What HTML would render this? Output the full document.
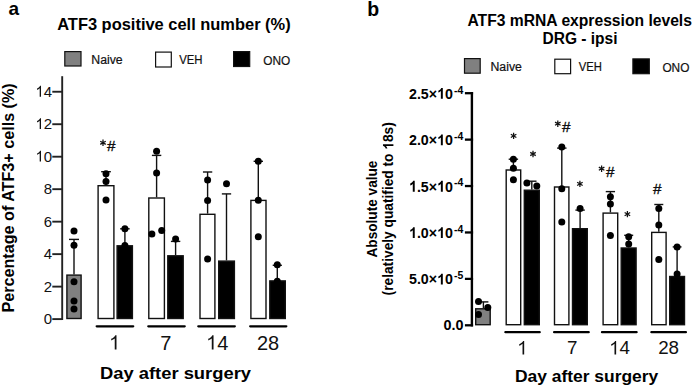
<!DOCTYPE html>
<html><head><meta charset="utf-8"><style>
html,body{margin:0;padding:0;background:#fff;width:698px;height:386px;overflow:hidden}
svg{display:block}
text{font-family:"Liberation Sans", sans-serif}
</style></head><body>
<svg width="698" height="386" viewBox="0 0 698 386">
<rect width="698" height="386" fill="#fff"/>
<text x="8.60" y="15.40" font-size="19" font-weight="bold" text-anchor="start" fill="#000" >a</text>
<text x="57.20" y="29.70" font-size="16.4" font-weight="bold" text-anchor="start" fill="#000" textLength="233.50" lengthAdjust="spacingAndGlyphs" >ATF3 positive cell number (%)</text>
<rect x="64.80" y="51.60" width="16.20" height="14.40" fill="#808080" stroke="#111" stroke-width="1.2"/>
<text x="91.30" y="64.10" font-size="12" font-weight="normal" text-anchor="start" fill="#111" textLength="31.40" lengthAdjust="spacingAndGlyphs" stroke="#111" stroke-width="0.2">Naive</text>
<rect x="155.60" y="52.10" width="15.70" height="14.90" fill="#fff" stroke="#111" stroke-width="1.2"/>
<text x="179.20" y="64.10" font-size="12" font-weight="normal" text-anchor="start" fill="#111" textLength="23.40" lengthAdjust="spacingAndGlyphs" stroke="#111" stroke-width="0.2">VEH</text>
<rect x="233.60" y="51.60" width="16.10" height="14.90" fill="#000" stroke="#111" stroke-width="1.2"/>
<text x="263.30" y="64.60" font-size="12" font-weight="normal" text-anchor="start" fill="#111" textLength="27.00" lengthAdjust="spacingAndGlyphs" stroke="#111" stroke-width="0.2">ONO</text>
<line x1="62.20" y1="76.20" x2="62.20" y2="320.00" stroke="#222" stroke-width="1.9" stroke-linecap="butt"/>
<line x1="52.30" y1="319.10" x2="62.20" y2="319.10" stroke="#222" stroke-width="1.9" stroke-linecap="butt"/>
<g transform="translate(52.10,324.00)"><text x="-8.34" y="0" font-size="15" font-weight="normal" fill="#111" >0</text></g>
<line x1="52.30" y1="286.62" x2="62.20" y2="286.62" stroke="#222" stroke-width="1.9" stroke-linecap="butt"/>
<g transform="translate(52.10,291.52)"><text x="-8.34" y="0" font-size="15" font-weight="normal" fill="#111" >2</text></g>
<line x1="52.30" y1="254.14" x2="62.20" y2="254.14" stroke="#222" stroke-width="1.9" stroke-linecap="butt"/>
<g transform="translate(52.10,259.04)"><text x="-8.34" y="0" font-size="15" font-weight="normal" fill="#111" >4</text></g>
<line x1="52.30" y1="221.66" x2="62.20" y2="221.66" stroke="#222" stroke-width="1.9" stroke-linecap="butt"/>
<g transform="translate(52.10,226.56)"><text x="-8.34" y="0" font-size="15" font-weight="normal" fill="#111" >6</text></g>
<line x1="52.30" y1="189.18" x2="62.20" y2="189.18" stroke="#222" stroke-width="1.9" stroke-linecap="butt"/>
<g transform="translate(52.10,194.08)"><text x="-8.34" y="0" font-size="15" font-weight="normal" fill="#111" >8</text></g>
<line x1="52.30" y1="156.70" x2="62.20" y2="156.70" stroke="#222" stroke-width="1.9" stroke-linecap="butt"/>
<g transform="translate(52.10,161.60)"><text x="-16.68" y="0" font-size="15" font-weight="normal" fill="#111" >&#8199;0</text><path d="M763 0H583V1147Q518 1085 412 1023Q306 961 222 930V1104Q373 1175 486 1276Q599 1377 646 1472H763Z" fill="#111" transform="translate(-16.68,0) scale(0.00732,-0.00732)"/></g>
<line x1="52.30" y1="124.22" x2="62.20" y2="124.22" stroke="#222" stroke-width="1.9" stroke-linecap="butt"/>
<g transform="translate(52.10,129.12)"><text x="-16.68" y="0" font-size="15" font-weight="normal" fill="#111" >&#8199;2</text><path d="M763 0H583V1147Q518 1085 412 1023Q306 961 222 930V1104Q373 1175 486 1276Q599 1377 646 1472H763Z" fill="#111" transform="translate(-16.68,0) scale(0.00732,-0.00732)"/></g>
<line x1="52.30" y1="91.74" x2="62.20" y2="91.74" stroke="#222" stroke-width="1.9" stroke-linecap="butt"/>
<g transform="translate(52.10,96.64)"><text x="-16.68" y="0" font-size="15" font-weight="normal" fill="#111" >&#8199;4</text><path d="M763 0H583V1147Q518 1085 412 1023Q306 961 222 930V1104Q373 1175 486 1276Q599 1377 646 1472H763Z" fill="#111" transform="translate(-16.68,0) scale(0.00732,-0.00732)"/></g>
<text transform="translate(13.6,197.9) rotate(-90)" font-size="16" font-weight="bold" text-anchor="middle" textLength="229.2" lengthAdjust="spacingAndGlyphs">Percentage of ATF3+ cells (%)</text>
<line x1="74.00" y1="239.40" x2="74.00" y2="274.40" stroke="#111" stroke-width="1.4" stroke-linecap="butt"/>
<line x1="69.00" y1="239.40" x2="79.00" y2="239.40" stroke="#111" stroke-width="1.4" stroke-linecap="butt"/>
<rect x="66.90" y="275.10" width="14.20" height="43.40" fill="#808080" stroke="#111" stroke-width="1.4"/>
<circle cx="74.00" cy="230.90" r="3.5" fill="#000"/>
<circle cx="74.00" cy="245.30" r="3.5" fill="#000"/>
<circle cx="74.00" cy="281.80" r="3.5" fill="#000"/>
<circle cx="74.00" cy="301.10" r="3.5" fill="#000"/>
<circle cx="74.00" cy="308.90" r="3.5" fill="#000"/>
<line x1="106.00" y1="171.70" x2="106.00" y2="185.00" stroke="#111" stroke-width="1.4" stroke-linecap="butt"/>
<line x1="101.15" y1="171.70" x2="110.85" y2="171.70" stroke="#111" stroke-width="1.4" stroke-linecap="butt"/>
<rect x="98.10" y="185.70" width="15.80" height="132.80" fill="#fff" stroke="#111" stroke-width="1.4"/>
<circle cx="106.00" cy="173.80" r="3.5" fill="#000"/>
<circle cx="106.00" cy="181.60" r="3.5" fill="#000"/>
<circle cx="106.00" cy="200.00" r="3.5" fill="#000"/>
<line x1="124.90" y1="228.80" x2="124.90" y2="245.10" stroke="#111" stroke-width="1.4" stroke-linecap="butt"/>
<line x1="120.15" y1="228.80" x2="129.65" y2="228.80" stroke="#111" stroke-width="1.4" stroke-linecap="butt"/>
<rect x="117.10" y="245.80" width="15.30" height="72.70" fill="#000" stroke="#111" stroke-width="1.4"/>
<circle cx="124.90" cy="228.80" r="3.5" fill="#000"/>
<circle cx="124.90" cy="245.50" r="3.5" fill="#000"/>
<line x1="156.60" y1="155.40" x2="156.60" y2="197.30" stroke="#111" stroke-width="1.4" stroke-linecap="butt"/>
<line x1="151.90" y1="155.40" x2="161.30" y2="155.40" stroke="#111" stroke-width="1.4" stroke-linecap="butt"/>
<rect x="148.80" y="198.00" width="15.60" height="120.50" fill="#fff" stroke="#111" stroke-width="1.4"/>
<circle cx="156.60" cy="151.20" r="3.5" fill="#000"/>
<circle cx="156.60" cy="173.10" r="3.5" fill="#000"/>
<circle cx="151.90" cy="234.00" r="3.5" fill="#000"/>
<circle cx="161.70" cy="230.50" r="3.5" fill="#000"/>
<line x1="175.60" y1="241.40" x2="175.60" y2="255.10" stroke="#111" stroke-width="1.4" stroke-linecap="butt"/>
<line x1="170.90" y1="241.40" x2="180.30" y2="241.40" stroke="#111" stroke-width="1.4" stroke-linecap="butt"/>
<rect x="167.80" y="255.80" width="15.40" height="62.70" fill="#000" stroke="#111" stroke-width="1.4"/>
<circle cx="175.60" cy="239.10" r="3.5" fill="#000"/>
<line x1="207.60" y1="172.00" x2="207.60" y2="213.60" stroke="#111" stroke-width="1.4" stroke-linecap="butt"/>
<line x1="202.95" y1="172.00" x2="212.25" y2="172.00" stroke="#111" stroke-width="1.4" stroke-linecap="butt"/>
<rect x="200.00" y="214.30" width="14.90" height="104.20" fill="#fff" stroke="#111" stroke-width="1.4"/>
<circle cx="207.60" cy="179.90" r="3.5" fill="#000"/>
<circle cx="207.60" cy="200.40" r="3.5" fill="#000"/>
<circle cx="207.60" cy="258.90" r="3.5" fill="#000"/>
<line x1="226.50" y1="193.90" x2="226.50" y2="260.40" stroke="#111" stroke-width="1.4" stroke-linecap="butt"/>
<line x1="221.85" y1="193.90" x2="231.15" y2="193.90" stroke="#111" stroke-width="1.4" stroke-linecap="butt"/>
<rect x="218.70" y="261.10" width="15.70" height="57.40" fill="#000" stroke="#111" stroke-width="1.4"/>
<circle cx="226.50" cy="183.80" r="3.5" fill="#000"/>
<line x1="258.30" y1="161.30" x2="258.30" y2="199.70" stroke="#111" stroke-width="1.4" stroke-linecap="butt"/>
<line x1="253.60" y1="161.30" x2="263.00" y2="161.30" stroke="#111" stroke-width="1.4" stroke-linecap="butt"/>
<rect x="250.90" y="200.40" width="15.10" height="118.10" fill="#fff" stroke="#111" stroke-width="1.4"/>
<circle cx="258.30" cy="161.30" r="3.5" fill="#000"/>
<circle cx="258.30" cy="200.20" r="3.5" fill="#000"/>
<circle cx="258.30" cy="236.80" r="3.5" fill="#000"/>
<line x1="277.30" y1="265.30" x2="277.30" y2="280.20" stroke="#111" stroke-width="1.4" stroke-linecap="butt"/>
<line x1="272.70" y1="265.30" x2="281.90" y2="265.30" stroke="#111" stroke-width="1.4" stroke-linecap="butt"/>
<rect x="269.80" y="280.90" width="15.50" height="37.60" fill="#000" stroke="#111" stroke-width="1.4"/>
<circle cx="277.30" cy="264.80" r="3.5" fill="#000"/>
<circle cx="277.30" cy="281.20" r="3.5" fill="#000"/>
<path d="M103.00 139.60V146.00M100.23 141.20L105.77 144.40M100.23 144.40L105.77 141.20" stroke="#111" stroke-width="1.25" fill="none"/>
<text x="107.00" y="151.00" font-size="15.3" font-weight="normal" text-anchor="start" fill="#111" stroke="#111" stroke-width="0.35">#</text>
<line x1="96.70" y1="326.30" x2="133.20" y2="326.30" stroke="#000" stroke-width="2.3" stroke-linecap="round"/>
<line x1="148.30" y1="326.30" x2="184.70" y2="326.30" stroke="#000" stroke-width="2.3" stroke-linecap="round"/>
<line x1="198.30" y1="326.30" x2="234.80" y2="326.30" stroke="#000" stroke-width="2.3" stroke-linecap="round"/>
<line x1="250.20" y1="326.30" x2="286.30" y2="326.30" stroke="#000" stroke-width="2.3" stroke-linecap="round"/>
<g transform="translate(114.60,349.60)"><text x="-5.56" y="0" font-size="20" font-weight="normal" fill="#111" >&#8199;</text><path d="M763 0H583V1147Q518 1085 412 1023Q306 961 222 930V1104Q373 1175 486 1276Q599 1377 646 1472H763Z" fill="#111" transform="translate(-5.56,0) scale(0.00977,-0.00977)"/></g>
<g transform="translate(165.80,349.60)"><text x="-5.56" y="0" font-size="20" font-weight="normal" fill="#111" >7</text></g>
<g transform="translate(217.20,349.60)"><text x="-11.12" y="0" font-size="20" font-weight="normal" fill="#111" >&#8199;4</text><path d="M763 0H583V1147Q518 1085 412 1023Q306 961 222 930V1104Q373 1175 486 1276Q599 1377 646 1472H763Z" fill="#111" transform="translate(-11.12,0) scale(0.00977,-0.00977)"/></g>
<g transform="translate(268.00,349.60)"><text x="-11.12" y="0" font-size="20" font-weight="normal" fill="#111" >28</text></g>
<text x="100.00" y="378.60" font-size="17" font-weight="bold" text-anchor="start" fill="#000" textLength="151.00" lengthAdjust="spacingAndGlyphs" >Day after surgery</text>
<text x="367.20" y="15.60" font-size="19.5" font-weight="bold" text-anchor="start" fill="#000" >b</text>
<text x="579.70" y="25.80" font-size="16" font-weight="bold" text-anchor="middle" fill="#000" textLength="224.50" lengthAdjust="spacingAndGlyphs" >ATF3 mRNA expression levels</text>
<text x="580.00" y="43.60" font-size="16" font-weight="bold" text-anchor="middle" fill="#000" textLength="75.00" lengthAdjust="spacingAndGlyphs" >DRG - ipsi</text>
<rect x="464.50" y="58.60" width="15.70" height="14.60" fill="#808080" stroke="#111" stroke-width="1.2"/>
<text x="490.50" y="70.90" font-size="12" font-weight="normal" text-anchor="start" fill="#111" textLength="31.40" lengthAdjust="spacingAndGlyphs" stroke="#111" stroke-width="0.2">Naive</text>
<rect x="554.80" y="59.20" width="15.80" height="14.50" fill="#fff" stroke="#111" stroke-width="1.2"/>
<text x="578.80" y="70.90" font-size="12" font-weight="normal" text-anchor="start" fill="#111" textLength="23.20" lengthAdjust="spacingAndGlyphs" stroke="#111" stroke-width="0.2">VEH</text>
<rect x="632.90" y="58.90" width="16.40" height="14.80" fill="#000" stroke="#111" stroke-width="1.2"/>
<text x="662.40" y="71.70" font-size="12" font-weight="normal" text-anchor="start" fill="#111" textLength="27.00" lengthAdjust="spacingAndGlyphs" stroke="#111" stroke-width="0.2">ONO</text>
<line x1="471.90" y1="92.00" x2="471.90" y2="326.45" stroke="#000" stroke-width="2.4" stroke-linecap="butt"/>
<line x1="464.90" y1="325.30" x2="473.10" y2="325.30" stroke="#000" stroke-width="2.3" stroke-linecap="butt"/>
<text x="443.40" y="330.30" font-size="15" font-weight="bold" text-anchor="start" fill="#000" textLength="20.00" lengthAdjust="spacingAndGlyphs" >0.0</text>
<line x1="464.90" y1="278.88" x2="473.10" y2="278.88" stroke="#000" stroke-width="2.3" stroke-linecap="butt"/>
<g transform="translate(409.00,284.48)"><text x="0.00" y="0" font-size="15" font-weight="bold" fill="#000" textLength="43.90" lengthAdjust="spacingAndGlyphs" >5.0&#215;&#8199;0</text><path d="M825 0H544V1059Q390 915 181 846V1101Q291 1137 420 1237Q549 1338 597 1472H825Z" fill="#000" transform="translate(28.08,0) scale(0.00695,-0.00732)"/></g>
<text x="454.10" y="279.18" font-size="10.4" font-weight="bold" text-anchor="start" fill="#000" textLength="9.30" lengthAdjust="spacingAndGlyphs" >-5</text>
<line x1="464.90" y1="232.46" x2="473.10" y2="232.46" stroke="#000" stroke-width="2.3" stroke-linecap="butt"/>
<g transform="translate(409.00,238.06)"><text x="0.00" y="0" font-size="15" font-weight="bold" fill="#000" textLength="43.90" lengthAdjust="spacingAndGlyphs" >&#8199;.0&#215;&#8199;0</text><path d="M825 0H544V1059Q390 915 181 846V1101Q291 1137 420 1237Q549 1338 597 1472H825Z" fill="#000" transform="translate(0.00,0) scale(0.00695,-0.00732)"/><path d="M825 0H544V1059Q390 915 181 846V1101Q291 1137 420 1237Q549 1338 597 1472H825Z" fill="#000" transform="translate(28.08,0) scale(0.00695,-0.00732)"/></g>
<text x="454.10" y="232.76" font-size="10.4" font-weight="bold" text-anchor="start" fill="#000" textLength="9.30" lengthAdjust="spacingAndGlyphs" >-4</text>
<line x1="464.90" y1="186.04" x2="473.10" y2="186.04" stroke="#000" stroke-width="2.3" stroke-linecap="butt"/>
<g transform="translate(409.00,191.64)"><text x="0.00" y="0" font-size="15" font-weight="bold" fill="#000" textLength="43.90" lengthAdjust="spacingAndGlyphs" >&#8199;.5&#215;&#8199;0</text><path d="M825 0H544V1059Q390 915 181 846V1101Q291 1137 420 1237Q549 1338 597 1472H825Z" fill="#000" transform="translate(0.00,0) scale(0.00695,-0.00732)"/><path d="M825 0H544V1059Q390 915 181 846V1101Q291 1137 420 1237Q549 1338 597 1472H825Z" fill="#000" transform="translate(28.08,0) scale(0.00695,-0.00732)"/></g>
<text x="454.10" y="186.34" font-size="10.4" font-weight="bold" text-anchor="start" fill="#000" textLength="9.30" lengthAdjust="spacingAndGlyphs" >-4</text>
<line x1="464.90" y1="139.62" x2="473.10" y2="139.62" stroke="#000" stroke-width="2.3" stroke-linecap="butt"/>
<g transform="translate(409.00,145.22)"><text x="0.00" y="0" font-size="15" font-weight="bold" fill="#000" textLength="43.90" lengthAdjust="spacingAndGlyphs" >2.0&#215;&#8199;0</text><path d="M825 0H544V1059Q390 915 181 846V1101Q291 1137 420 1237Q549 1338 597 1472H825Z" fill="#000" transform="translate(28.08,0) scale(0.00695,-0.00732)"/></g>
<text x="454.10" y="139.92" font-size="10.4" font-weight="bold" text-anchor="start" fill="#000" textLength="9.30" lengthAdjust="spacingAndGlyphs" >-4</text>
<line x1="464.90" y1="93.20" x2="473.10" y2="93.20" stroke="#000" stroke-width="2.3" stroke-linecap="butt"/>
<g transform="translate(409.00,98.80)"><text x="0.00" y="0" font-size="15" font-weight="bold" fill="#000" textLength="43.90" lengthAdjust="spacingAndGlyphs" >2.5&#215;&#8199;0</text><path d="M825 0H544V1059Q390 915 181 846V1101Q291 1137 420 1237Q549 1338 597 1472H825Z" fill="#000" transform="translate(28.08,0) scale(0.00695,-0.00732)"/></g>
<text x="454.10" y="93.50" font-size="10.4" font-weight="bold" text-anchor="start" fill="#000" textLength="9.30" lengthAdjust="spacingAndGlyphs" >-4</text>
<text transform="translate(377.2,209.05) rotate(-90)" font-size="14" font-weight="bold" text-anchor="middle" textLength="97.0" lengthAdjust="spacingAndGlyphs">Absolute value</text>
<g transform="translate(393.40,208.80) rotate(-90)"><text x="-86.60" y="0" font-size="14.5" font-weight="bold" fill="#000" textLength="173.20" lengthAdjust="spacingAndGlyphs" >(relatively quatified to &#8199;8s)</text><path d="M825 0H544V1059Q390 915 181 846V1101Q291 1137 420 1237Q549 1338 597 1472H825Z" fill="#000" transform="translate(59.12,0) scale(0.00670,-0.00708)"/></g>
<line x1="483.40" y1="301.90" x2="483.40" y2="308.10" stroke="#111" stroke-width="1.4" stroke-linecap="butt"/>
<line x1="478.40" y1="301.90" x2="488.40" y2="301.90" stroke="#111" stroke-width="1.4" stroke-linecap="butt"/>
<rect x="475.70" y="308.80" width="14.50" height="15.90" fill="#808080" stroke="#111" stroke-width="1.4"/>
<circle cx="478.50" cy="301.60" r="3.5" fill="#000"/>
<circle cx="487.80" cy="307.60" r="3.5" fill="#000"/>
<circle cx="478.50" cy="314.40" r="3.5" fill="#000"/>
<line x1="513.40" y1="159.20" x2="513.40" y2="169.30" stroke="#111" stroke-width="1.4" stroke-linecap="butt"/>
<line x1="508.70" y1="159.20" x2="518.10" y2="159.20" stroke="#111" stroke-width="1.4" stroke-linecap="butt"/>
<rect x="506.20" y="170.00" width="14.50" height="154.70" fill="#fff" stroke="#111" stroke-width="1.4"/>
<circle cx="513.40" cy="159.20" r="3.5" fill="#000"/>
<circle cx="513.40" cy="168.20" r="3.5" fill="#000"/>
<circle cx="513.40" cy="179.70" r="3.5" fill="#000"/>
<line x1="531.80" y1="181.20" x2="531.80" y2="189.50" stroke="#111" stroke-width="1.4" stroke-linecap="butt"/>
<line x1="527.10" y1="181.20" x2="536.50" y2="181.20" stroke="#111" stroke-width="1.4" stroke-linecap="butt"/>
<rect x="524.30" y="190.20" width="15.00" height="134.50" fill="#000" stroke="#111" stroke-width="1.4"/>
<circle cx="526.90" cy="183.00" r="3.5" fill="#000"/>
<circle cx="536.80" cy="186.10" r="3.5" fill="#000"/>
<line x1="561.80" y1="148.10" x2="561.80" y2="186.30" stroke="#111" stroke-width="1.4" stroke-linecap="butt"/>
<line x1="557.10" y1="148.10" x2="566.50" y2="148.10" stroke="#111" stroke-width="1.4" stroke-linecap="butt"/>
<rect x="554.50" y="187.00" width="14.40" height="137.70" fill="#fff" stroke="#111" stroke-width="1.4"/>
<circle cx="561.80" cy="146.90" r="3.5" fill="#000"/>
<circle cx="561.80" cy="188.70" r="3.5" fill="#000"/>
<circle cx="561.80" cy="222.10" r="3.5" fill="#000"/>
<line x1="580.10" y1="210.10" x2="580.10" y2="228.00" stroke="#111" stroke-width="1.4" stroke-linecap="butt"/>
<line x1="575.40" y1="210.10" x2="584.80" y2="210.10" stroke="#111" stroke-width="1.4" stroke-linecap="butt"/>
<rect x="572.50" y="228.70" width="14.80" height="96.00" fill="#000" stroke="#111" stroke-width="1.4"/>
<circle cx="580.10" cy="208.50" r="3.5" fill="#000"/>
<line x1="610.40" y1="191.60" x2="610.40" y2="212.40" stroke="#111" stroke-width="1.4" stroke-linecap="butt"/>
<line x1="605.75" y1="191.60" x2="615.05" y2="191.60" stroke="#111" stroke-width="1.4" stroke-linecap="butt"/>
<rect x="603.10" y="213.10" width="14.60" height="111.60" fill="#fff" stroke="#111" stroke-width="1.4"/>
<circle cx="610.40" cy="196.80" r="3.5" fill="#000"/>
<circle cx="610.40" cy="204.00" r="3.5" fill="#000"/>
<circle cx="610.40" cy="235.40" r="3.5" fill="#000"/>
<line x1="628.70" y1="235.30" x2="628.70" y2="247.30" stroke="#111" stroke-width="1.4" stroke-linecap="butt"/>
<line x1="624.20" y1="235.30" x2="633.20" y2="235.30" stroke="#111" stroke-width="1.4" stroke-linecap="butt"/>
<rect x="621.20" y="248.00" width="14.90" height="76.70" fill="#000" stroke="#111" stroke-width="1.4"/>
<circle cx="628.70" cy="236.70" r="3.5" fill="#000"/>
<circle cx="628.70" cy="243.90" r="3.5" fill="#000"/>
<line x1="658.80" y1="204.50" x2="658.80" y2="231.70" stroke="#111" stroke-width="1.4" stroke-linecap="butt"/>
<line x1="654.30" y1="204.50" x2="663.30" y2="204.50" stroke="#111" stroke-width="1.4" stroke-linecap="butt"/>
<rect x="651.70" y="232.40" width="14.40" height="92.30" fill="#fff" stroke="#111" stroke-width="1.4"/>
<circle cx="658.80" cy="208.40" r="3.5" fill="#000"/>
<circle cx="658.80" cy="225.10" r="3.5" fill="#000"/>
<circle cx="658.80" cy="259.50" r="3.5" fill="#000"/>
<line x1="677.10" y1="246.90" x2="677.10" y2="275.80" stroke="#111" stroke-width="1.4" stroke-linecap="butt"/>
<line x1="672.70" y1="246.90" x2="681.50" y2="246.90" stroke="#111" stroke-width="1.4" stroke-linecap="butt"/>
<rect x="669.70" y="276.50" width="14.80" height="48.20" fill="#000" stroke="#111" stroke-width="1.4"/>
<circle cx="677.10" cy="246.90" r="3.5" fill="#000"/>
<circle cx="677.10" cy="273.90" r="3.5" fill="#000"/>
<path d="M513.60 132.70V139.10M510.83 134.30L516.37 137.50M510.83 137.50L516.37 134.30" stroke="#111" stroke-width="1.25" fill="none"/>
<path d="M533.00 150.80V157.20M530.23 152.40L535.77 155.60M530.23 155.60L535.77 152.40" stroke="#111" stroke-width="1.25" fill="none"/>
<path d="M557.80 120.50V126.90M555.03 122.10L560.57 125.30M555.03 125.30L560.57 122.10" stroke="#111" stroke-width="1.25" fill="none"/>
<text x="561.90" y="131.80" font-size="15.3" font-weight="normal" text-anchor="start" fill="#111" stroke="#111" stroke-width="0.35">#</text>
<path d="M579.90 180.70V187.10M577.13 182.30L582.67 185.50M577.13 185.50L582.67 182.30" stroke="#111" stroke-width="1.25" fill="none"/>
<path d="M601.60 165.50V171.90M598.83 167.10L604.37 170.30M598.83 170.30L604.37 167.10" stroke="#111" stroke-width="1.25" fill="none"/>
<text x="605.90" y="177.00" font-size="15.3" font-weight="normal" text-anchor="start" fill="#111" stroke="#111" stroke-width="0.35">#</text>
<path d="M627.40 210.90V217.30M624.63 212.50L630.17 215.70M624.63 215.70L630.17 212.50" stroke="#111" stroke-width="1.25" fill="none"/>
<text x="652.90" y="193.70" font-size="15.3" font-weight="normal" text-anchor="start" fill="#111" stroke="#111" stroke-width="0.35">#</text>
<line x1="505.40" y1="332.20" x2="539.70" y2="332.20" stroke="#000" stroke-width="2.3" stroke-linecap="round"/>
<line x1="554.10" y1="332.20" x2="588.70" y2="332.20" stroke="#000" stroke-width="2.3" stroke-linecap="round"/>
<line x1="602.00" y1="332.20" x2="636.60" y2="332.20" stroke="#000" stroke-width="2.3" stroke-linecap="round"/>
<line x1="651.40" y1="332.20" x2="685.90" y2="332.20" stroke="#000" stroke-width="2.3" stroke-linecap="round"/>
<g transform="translate(522.40,354.40)"><text x="-5.23" y="0" font-size="18.8" font-weight="normal" fill="#111" >&#8199;</text><path d="M763 0H583V1147Q518 1085 412 1023Q306 961 222 930V1104Q373 1175 486 1276Q599 1377 646 1472H763Z" fill="#111" transform="translate(-5.23,0) scale(0.00918,-0.00918)"/></g>
<g transform="translate(572.30,354.40)"><text x="-5.23" y="0" font-size="18.8" font-weight="normal" fill="#111" >7</text></g>
<g transform="translate(619.60,354.40)"><text x="-10.46" y="0" font-size="18.8" font-weight="normal" fill="#111" >&#8199;4</text><path d="M763 0H583V1147Q518 1085 412 1023Q306 961 222 930V1104Q373 1175 486 1276Q599 1377 646 1472H763Z" fill="#111" transform="translate(-10.46,0) scale(0.00918,-0.00918)"/></g>
<g transform="translate(668.60,354.40)"><text x="-10.46" y="0" font-size="18.8" font-weight="normal" fill="#111" >28</text></g>
<text x="514.90" y="381.60" font-size="17.2" font-weight="bold" text-anchor="start" fill="#000" textLength="143.40" lengthAdjust="spacingAndGlyphs" >Day after surgery</text>
</svg>
</body></html>
